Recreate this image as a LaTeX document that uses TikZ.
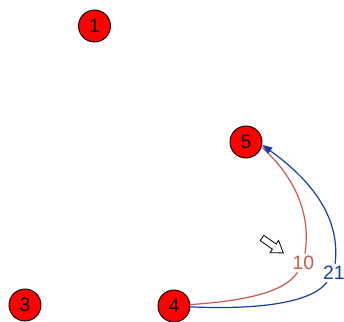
\documentclass[tikz,border=0pt]{standalone}
\usepackage{fontspec}
\setmainfont{Liberation Sans}
\usetikzlibrary{arrows.meta}

\definecolor{vred}{RGB}{255,0,0}
\definecolor{edgered}{RGB}{205,88,80}
\definecolor{edgeblue}{RGB}{22,62,168}

\tikzset{every picture/.style={line width=0.75pt}}
\tikzset{
  vertex/.style={circle, draw=black, fill=vred, line width=0.7pt, minimum size=24pt, inner sep=0pt, font=\fontsize{14.5}{17}\selectfont},
  elabel/.style={inner sep=1.5pt, font=\fontsize{14.5}{17}\selectfont},
  rededge/.style={draw=edgered, line width=0.9pt},
  blueedge/.style={draw=edgeblue, line width=0.9pt},
  hollowarrow/.style={draw=black, fill=white, line width=0.6pt, line join=miter}
}

\begin{document}
\begin{tikzpicture}[x=0.75pt,y=0.75pt,yscale=-1,xscale=1]
\useasboundingbox (0,0) rectangle (344,322);

% Vertices
\node[vertex] (n1) at (94.5,26) {1};
\node[vertex] (n5) at (246,142) {5};
\node[vertex] (n3) at (25,305) {3};
\node[vertex] (n4) at (174,306) {4};

% Edge labels
\node[elabel, text=edgered] (l10) at (303.5,263) {10};
\node[elabel, text=edgeblue] (l21) at (334,273) {21};

% Edge 4 -> 5, weight 10
\draw[rededge] (n4.5) .. controls (245,301) and (285,292) .. (l10);
\draw[rededge] (l10) .. controls (311,215) and (296,178) .. (n5.-18);

% Edge 4 -> 5, weight 21
\draw[blueedge] (n4.-3) .. controls (262,310) and (312,302) .. (l21);
\draw[blueedge, -{Triangle[length=7.5pt,width=5.5pt]}] (l21) .. controls (341,215) and (308,178) .. (n5.-10);

% Pointer
\draw[hollowarrow, shift={(262,238)}, rotate=35] (0,3.2) -- (15,3.2) -- (15,7.5) -- (26,0) -- (15,-7.5) -- (15,-3.2) -- (0,-3.2) -- cycle;

\end{tikzpicture}
\end{document}
